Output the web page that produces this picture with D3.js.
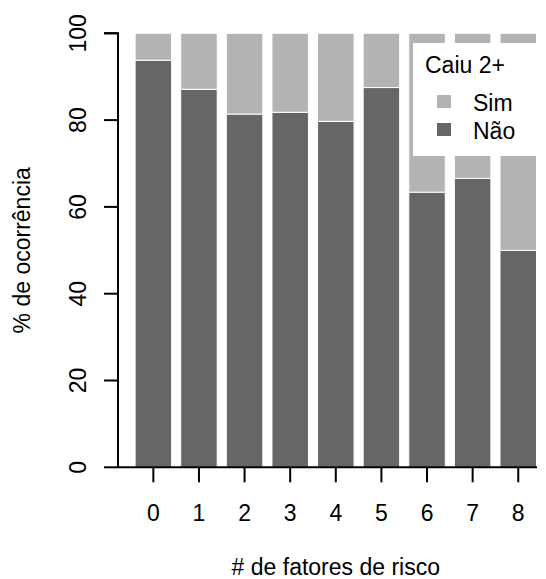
<!DOCTYPE html>
<html>
<head>
<meta charset="utf-8">
<script src="https://cdn.jsdelivr.net/npm/d3@7"></script>
<style>
  body { margin: 0; background: #fff; }
  text { font-family: "Liberation Sans", Arial, sans-serif; fill: #000; }
</style>
</head>
<body>
<div id="chart"></div>
<script>
// Data
var fatores = ["0", "1", "2", "3", "4", "5", "6", "7", "8"];
var nao = [93.8, 87.1, 81.4, 81.8, 79.7, 87.5, 63.4, 66.6, 50.0];
var sim = [6.2, 12.9, 18.6, 18.2, 20.3, 12.5, 36.6, 33.4, 50.0];
var yTicks = [0, 20, 40, 60, 80, 100];
var legendLabels = ["Sim", "Não"];

var svgWidth = 546;
var svgHeight = 579;
var fontSize = 23;
var corNao = "#666666";
var corSim = "#b3b3b3";

var svg = d3.select("#chart")
  .append("svg")
  .attr("width", svgWidth)
  .attr("height", svgHeight);

// Scales
var xScale = d3.scaleBand()
  .domain(fatores)
  .range([135.1, 536.5])
  .paddingInner(0.2)
  .paddingOuter(0);

var yScale = d3.scaleLinear()
  .domain([0, 100])
  .range([467.3, 33.3]);

// Stack the two series
var rows = fatores.map((f, i) => ({ fator: f, nao: nao[i], sim: sim[i] }));
var series = d3.stack().keys(["nao", "sim"])(rows);
var cores = { nao: corNao, sim: corSim };

svg.append("g")
  .selectAll("g")
  .data(series)
  .enter()
  .append("g")
  .attr("fill", d => cores[d.key])
  .selectAll("rect")
  .data(d => d)
  .enter()
  .append("rect")
  .attr("x", d => xScale(d.data.fator))
  .attr("y", d => yScale(d[1]))
  .attr("width", xScale.bandwidth())
  .attr("height", d => yScale(d[0]) - yScale(d[1]))
  .attr("stroke", "#fff")
  .attr("stroke-width", 1);

// Y axis
var leftAxis = d3.axisLeft(yScale)
  .tickValues(yTicks)
  .tickSize(14)
  .tickPadding(32);
var yAxis = svg.append("g")
  .attr("transform", "translate(118,0)")
  .call(leftAxis);
yAxis.select(".domain")
  .attr("d", `M0,${yScale(0)}V${yScale(100)}H-14`)
  .attr("stroke", "#000")
  .attr("stroke-width", 2)
  .attr("fill", "none");
yAxis.selectAll(".tick line").attr("stroke-width", 2);
yAxis.selectAll(".tick text")
  .attr("font-size", fontSize)
  .attr("font-family", "Liberation Sans, Arial, sans-serif")
  .attr("text-anchor", "middle")
  .attr("transform", d => `rotate(-90, -32, ${yScale(d)})`)
  .attr("x", -32)
  .attr("y", d => yScale(d))
  .attr("dy", 0);
yAxis.selectAll(".tick").attr("transform", null);
yAxis.selectAll(".tick line")
  .attr("y1", d => yScale(d))
  .attr("y2", d => yScale(d));

// Baseline
svg.append("line")
  .attr("x1", 118)
  .attr("x2", 537)
  .attr("y1", yScale(0))
  .attr("y2", yScale(0))
  .attr("stroke", "#000")
  .attr("stroke-width", 2);

// X axis
var bottomAxis = d3.axisBottom(xScale)
  .tickSize(15)
  .tickPadding(22);
var xAxis = svg.append("g")
  .attr("transform", `translate(0, ${yScale(0)})`)
  .call(bottomAxis);
xAxis.select(".domain").remove();
xAxis.selectAll(".tick line").attr("stroke-width", 2);
xAxis.selectAll(".tick text")
  .attr("font-size", fontSize)
  .attr("font-family", "Liberation Sans, Arial, sans-serif");

// Axis titles
svg.append("text")
  .attr("x", xScale("4") + xScale.bandwidth() / 2)
  .attr("y", 575)
  .attr("text-anchor", "middle")
  .attr("font-size", fontSize)
  .text("# de fatores de risco");

svg.append("text")
  .attr("transform", `translate(30, ${(yScale(0) + yScale(100)) / 2}) rotate(-90)`)
  .attr("text-anchor", "middle")
  .attr("font-size", fontSize)
  .text("% de ocorrência");

// Legend
var legend = svg.append("g");
legend.append("rect")
  .attr("x", 413)
  .attr("y", 43)
  .attr("width", 140)
  .attr("height", 113)
  .attr("fill", "#fff");
legend.append("text")
  .attr("x", 425)
  .attr("y", 73)
  .attr("font-size", fontSize)
  .text("Caiu 2+");
var legendCores = [corSim, corNao];
legendLabels.forEach(function(lab, i) {
  legend.append("rect")
    .attr("x", 437)
    .attr("y", 95 + i * 28)
    .attr("width", 14)
    .attr("height", 13)
    .attr("fill", legendCores[i]);
  legend.append("text")
    .attr("x", 473)
    .attr("y", 111 + i * 27.5)
    .attr("font-size", fontSize)
    .text(lab);
});
</script>
</body>
</html>
